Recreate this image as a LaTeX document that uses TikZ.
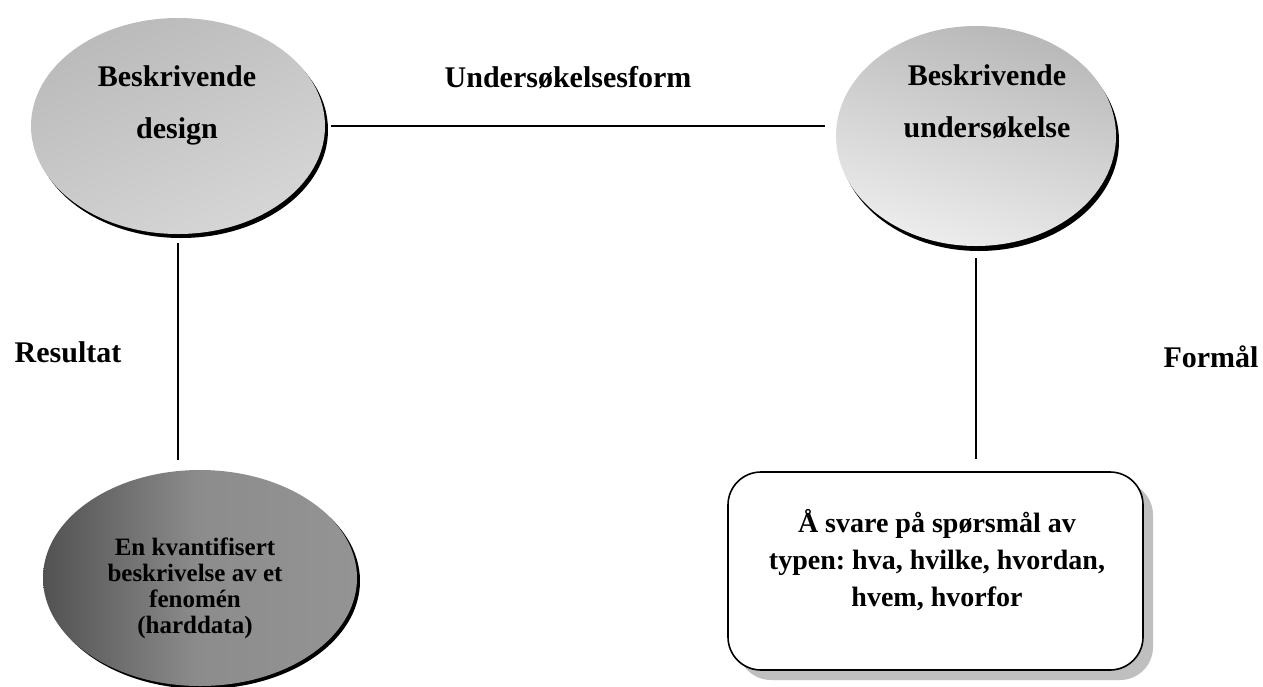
\documentclass[tikz,border=0pt]{standalone}
\usepackage{fontspec}
\setmainfont{Liberation Serif}
\usetikzlibrary{shapes.geometric}
\frenchspacing
\begin{document}
\begin{tikzpicture}[x=1pt,y=-1pt,
  conn/.style={line width=2.4pt},
  lbl/.style={font=\fontsize{30}{36}\selectfont\bfseries, inner sep=0pt},
  elltext/.style={font=\fontsize{30}{52}\selectfont\bfseries, inner sep=0pt, align=center},
  ell/.style={ellipse, inner sep=0pt, draw=none},
  shade/.style={ell, fill=black}]
\useasboundingbox[fill=white] (0,0) rectangle (1263,686);
% ellipse A
\node[shade, minimum width=294pt, minimum height=216pt] (As) at (181,130) {};
\node[ell, minimum width=294pt, minimum height=216pt, top color=black!27, bottom color=black!16, shading angle=25] (A) at (178,126) {};
\node[elltext] (At) at (177,105) {Beskrivende\\design};
% ellipse B
\node[shade, minimum width=280pt, minimum height=220pt] (Bs) at (979,141) {};
\node[ell, minimum width=280pt, minimum height=220pt, top color=black!28, bottom color=black!7, shading angle=-15] (B) at (976,136) {};
\node[elltext] (Bt) at (987,102) {Beskrivende\\undersøkelse};
% ellipse C
\node[shade, minimum width=314pt, minimum height=216pt] (Cs) at (203,581) {};
\node[ell, minimum width=314pt, minimum height=216pt, left color=black!68, right color=black!42, middle color=black!45] (C) at (200,578) {};
\node[font=\fontsize{25}{26}\selectfont\bfseries, inner sep=0pt, align=center] (Ct) at (195,588) {En kvantifisert\\beskrivelse av et\\fenomén\\(harddata)};
% box D
\node[rounded corners=33pt, fill=black!25, minimum width=415pt, minimum height=198pt, inner sep=0pt] (Ds) at (945.5,581) {};
\node[draw, line width=1.6pt, rounded corners=33pt, fill=white, minimum width=415pt, minimum height=198pt, inner sep=0pt] (D) at (935.5,571) {};
\node[font=\fontsize{28}{37}\selectfont\bfseries, inner sep=0pt, align=center] (Dt) at (937,560) {Å svare på spørsmål av\\typen: hva, hvilke, hvordan,\\hvem, hvorfor};
% connectors
\draw[conn, shorten <=6pt, shorten >=11pt] (A.east) -- (A.east -| B.west);
\draw[conn, shorten <=9pt, shorten >=10pt] (A.south) -- (A.south |- C.north);
\draw[conn, shorten <=12pt, shorten >=12pt] (B.south) -- (B.south |- D.north);
% labels
\node[lbl, anchor=base] (L1) at (568,87) {Undersøkelsesform};
\node[lbl, anchor=base] (L2) at (68,362) {Resultat};
\node[lbl, anchor=base] (L3) at (1211,367) {Formål};
\end{tikzpicture}
\end{document}
